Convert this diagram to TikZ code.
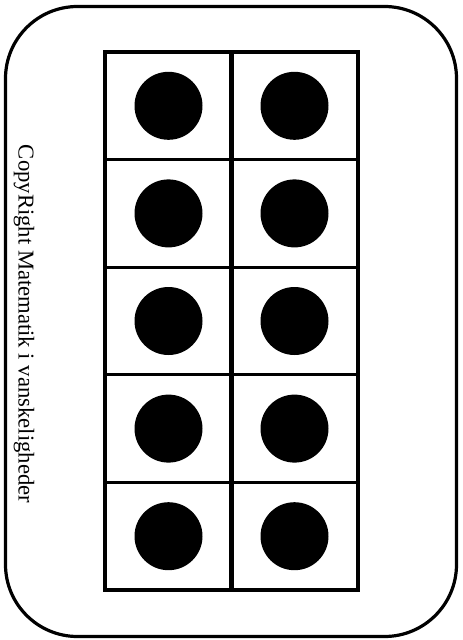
\documentclass[tikz,border=0pt]{standalone}
\usepackage{fontspec}
\setmainfont{Liberation Serif}
\begin{document}
\begin{tikzpicture}[x=0.75pt,y=-0.75pt,
  frame/.style={line width=2.4pt,rounded corners=54pt},
  cell/.style={draw,line width=2.3pt,minimum width=127*0.75pt,minimum height=107.6*0.75pt,inner sep=0pt,outer sep=0pt},
  dot/.style={circle,fill=black,minimum size=68*0.75pt,inner sep=0pt},
  label/.style={rotate=-90,font=\fontsize{17pt}{20pt}\selectfont,inner sep=0pt}]
\useasboundingbox (0,0) rectangle (462,640);
\draw[frame] (5.5,6.5) rectangle (456.5,636.5);
\foreach \r in {0,...,4} {
  \node[cell] (L\r) at (168.5,{52+107.6*\r+53.8}) {};
  \node[cell] (R\r) at (294.5,{52+107.6*\r+53.8}) {};
  \node[dot] (dl\r) at (L\r.center) {};
  \node[dot] (dr\r) at (R\r.center) {};
}
\node[label] (txt) at (24,324) {CopyRight Matematik i vanskeligheder};
\end{tikzpicture}
\end{document}
